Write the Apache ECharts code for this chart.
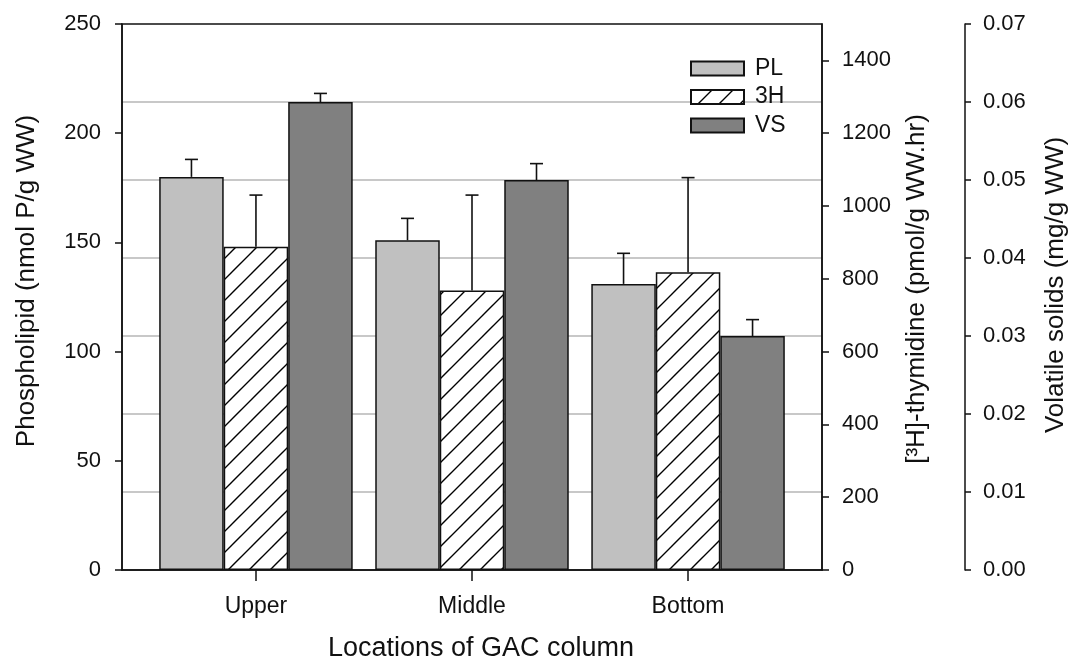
<!DOCTYPE html>
<html>
<head>
<meta charset="utf-8">
<script src="https://cdn.jsdelivr.net/npm/echarts@6/dist/echarts.min.js"></script>
<style>
html,body{margin:0;padding:0;background:#fff;}
#chart{width:1077px;height:667px;}
</style>
</head>
<body>
<div id="chart"></div>
<script>
// ---- data ----
const categories = ['Upper', 'Middle', 'Bottom'];
const categoryPos = [1, 2, 3];
const plValues = [180, 151, 131];
const plErr = [8, 10, 14];
const thymValues = [888, 768, 818];
const thymErr = [142, 262, 260];
const vsValues = [0.060, 0.050, 0.030];
const vsErr = [0.0011, 0.0021, 0.0021];
const leftTicks = [0, 50, 100, 150, 200, 250];
const thymTicks = [0, 200, 400, 600, 800, 1000, 1200, 1400];
const vsTicks = [0, 0.01, 0.02, 0.03, 0.04, 0.05, 0.06, 0.07];

// ---- styles ----
const FONT = "'Liberation Sans', Arial, sans-serif";
const BAR_W = 64.5;
const CAP = 6.5;
const INK = '#111';

function hatchPattern() {
  const s = 21;
  const c = document.createElement('canvas');
  c.width = s; c.height = s;
  const ctx = c.getContext('2d');
  ctx.fillStyle = '#fff';
  ctx.fillRect(0, 0, s, s);
  ctx.strokeStyle = '#000';
  ctx.lineWidth = 1.4;
  ctx.beginPath();
  ctx.moveTo(-2, s + 2); ctx.lineTo(s + 2, -2);
  ctx.moveTo(-2, 2); ctx.lineTo(2, -2);
  ctx.moveTo(s - 2, s + 2); ctx.lineTo(s + 2, s - 2);
  ctx.stroke();
  return { image: c, repeat: 'repeat' };
}

function pairs(vals) { return vals.map((v, i) => [categoryPos[i], v]); }
function errTriples(vals, errs) { return vals.map((v, i) => [categoryPos[i], v, v + errs[i]]); }

function errSeries(name, yIdx, vals, errs, slot) {
  return {
    name: name + ' err',
    type: 'custom',
    yAxisIndex: yIdx,
    z: 5,
    silent: true,
    data: errTriples(vals, errs),
    encode: { x: 0, y: [1, 2] },
    renderItem: function (params, api) {
      const base = api.coord([api.value(0), api.value(1)]);
      const top = api.coord([api.value(0), api.value(2)]);
      const x = base[0] + slot * BAR_W;
      const st = { stroke: INK, lineWidth: 1.6 };
      return {
        type: 'group',
        children: [
          { type: 'line', shape: { x1: x, y1: base[1], x2: x, y2: top[1] }, style: st },
          { type: 'line', shape: { x1: x - CAP, y1: top[1], x2: x + CAP, y2: top[1] }, style: st }
        ]
      };
    }
  };
}

const chart = echarts.init(document.getElementById('chart'), null, { renderer: 'canvas' });

const axisLineStyle = { show: true, lineStyle: { color: INK, width: 1.5 } };
const tickLine = { color: INK, width: 1.5 };
const labelStyle = { color: '#111', fontFamily: FONT, fontSize: 22 };
const nameStyle = { color: '#111', fontFamily: FONT, fontSize: 26 };

const option = {
  animation: false,
  backgroundColor: '#fff',
  textStyle: { fontFamily: FONT },
  grid: {
    left: 122, right: 255, top: 24, bottom: 92,
    show: true, borderColor: INK, borderWidth: 1.5, backgroundColor: 'transparent', z: 3
  },
  legend: {
    orient: 'vertical',
    left: 690, top: 57, padding: 0,
    itemWidth: 53, itemHeight: 14, itemGap: 5.5,
    icon: 'rect',
    data: ['PL', '3H', 'VS'],
    textStyle: { color: '#111', fontFamily: FONT, fontSize: 23, padding: [0, 0, 0, 6] }
  },
  xAxis: {
    type: 'value',
    min: 0.38, max: 3.62,
    axisLine: axisLineStyle,
    axisTick: { show: true, length: 11, customValues: categoryPos, lineStyle: tickLine },
    axisLabel: Object.assign({
      customValues: categoryPos, margin: 25,
      formatter: v => categories[categoryPos.indexOf(Math.round(v))] || ''
    }, labelStyle, { fontSize: 23 }),
    splitLine: { show: false },
    name: 'Locations of GAC column',
    nameLocation: 'middle', nameGap: 65,
    nameTextStyle: Object.assign({}, nameStyle, { fontSize: 27, padding: [0, 0, 0, 18] })
  },
  yAxis: [
    {
      type: 'value', position: 'left',
      min: 0, max: 250, interval: 50,
      axisLine: axisLineStyle,
      axisTick: { show: true, length: 7, lineStyle: tickLine },
      axisLabel: Object.assign({ margin: 21 }, labelStyle),
      splitLine: { show: false },
      name: 'Phospholipid (nmol P/g WW)',
      nameLocation: 'middle', nameGap: 82,
      nameTextStyle: Object.assign({}, nameStyle, { padding: [0, 0, 0, 32] })
    },
    {
      type: 'value', position: 'right',
      min: 0, max: 1500,
      axisLine: axisLineStyle,
      axisTick: { show: true, length: 7, customValues: thymTicks, lineStyle: tickLine },
      axisLabel: Object.assign({ margin: 20, customValues: thymTicks, formatter: v => String(v) }, labelStyle),
      splitLine: { show: false },
      name: '[³H]-thymidine (pmol/g WW.hr)',
      nameLocation: 'middle', nameGap: 82,
      nameTextStyle: Object.assign({}, nameStyle, { padding: [0, 0, 0, 16] })
    },
    {
      type: 'value', position: 'right', offset: 143,
      min: 0, max: 0.07, interval: 0.01,
      axisLine: axisLineStyle,
      axisTick: { show: true, length: 6, lineStyle: tickLine },
      axisLabel: Object.assign({ margin: 18, formatter: v => v.toFixed(2) }, labelStyle),
      splitLine: { show: true, showMinLine: false, showMaxLine: false, lineStyle: { color: '#c8c8c8', width: 2 } },
      name: 'Volatile solids (mg/g WW)',
      nameLocation: 'middle', nameGap: 78,
      nameTextStyle: Object.assign({}, nameStyle, { padding: [0, 0, 0, 24] })
    }
  ],
  series: [
    {
      name: 'PL', type: 'bar', yAxisIndex: 0,
      barWidth: BAR_W, barGap: '0%',
      itemStyle: { color: '#c0c0c0', borderColor: INK, borderWidth: 1.5 },
      data: pairs(plValues)
    },
    {
      name: '3H', type: 'bar', yAxisIndex: 1,
      barWidth: BAR_W, barGap: '0%',
      itemStyle: { color: hatchPattern(), borderColor: INK, borderWidth: 1.5 },
      data: pairs(thymValues)
    },
    {
      name: 'VS', type: 'bar', yAxisIndex: 2,
      barWidth: BAR_W, barGap: '0%',
      itemStyle: { color: '#808080', borderColor: INK, borderWidth: 1.5 },
      data: pairs(vsValues)
    },
    errSeries('PL', 0, plValues, plErr, -1),
    errSeries('3H', 1, thymValues, thymErr, 0),
    errSeries('VS', 2, vsValues, vsErr, 1)
  ]
};
chart.setOption(option);
</script>
</body>
</html>
